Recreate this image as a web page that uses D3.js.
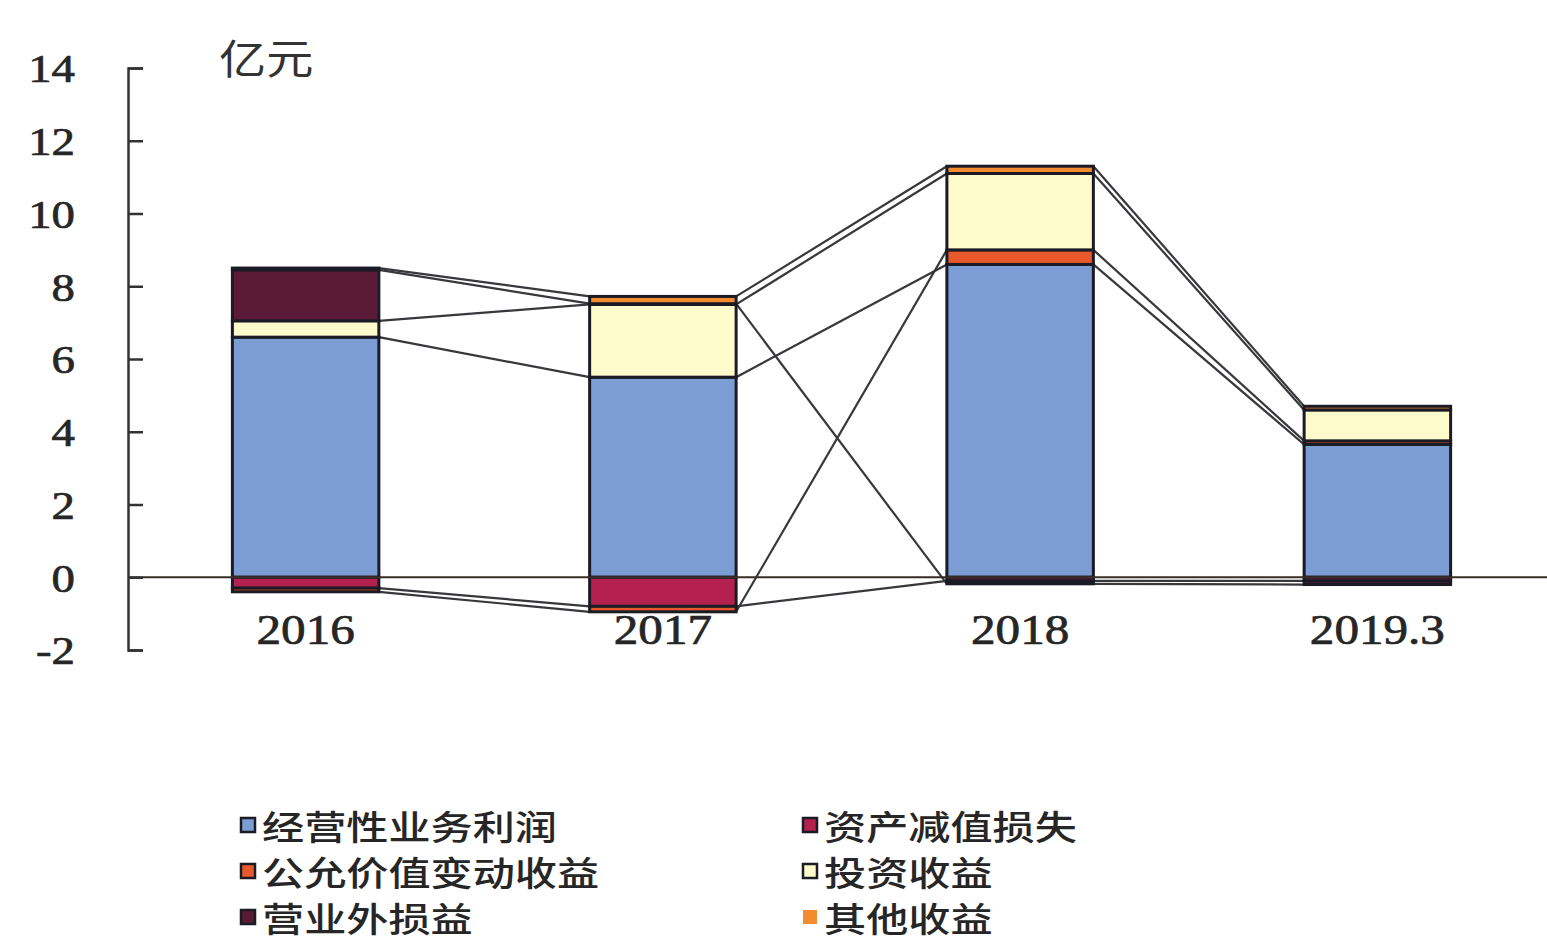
<!DOCTYPE html>
<html>
<head>
<meta charset="utf-8">
<script src="https://cdn.jsdelivr.net/npm/d3@7"></script>
<style>
  html, body { margin: 0; padding: 0; background: #ffffff; }
  svg { display: block; }
</style>
</head>
<body>
<svg id="chart" width="1547" height="943"></svg>
<script>
// Profit composition by year, 亿元
const categories = ["2016", "2017", "2018", "2019.3"];
const seriesNames = ["经营性业务利润", "资产减值损失", "公允价值变动收益", "投资收益", "营业外损益", "其他收益"];
const operatingProfit = [6.6, 5.5, 8.6, 3.65];
const impairmentLoss = [-0.3, -0.8, -0.1, -0.1];
const fairValueGain = [-0.1, -0.15, 0.4, 0.1];
const investmentIncome = [0.45, 2.0, 2.1, 0.85];
const nonOperating = [1.4, 0.02, -0.08, -0.1];
const otherIncome = [0.05, 0.2, 0.2, 0.1];
const yTicks = [-2, 0, 2, 4, 6, 8, 10, 12, 14];
const unitLabel = "亿元";

const seriesValues = [operatingProfit, impairmentLoss, fairValueGain, investmentIncome, nonOperating, otherIncome];
const colors = ["#7b9dd4", "#b4214e", "#e9582b", "#fdfbcb", "#5b1a36", "#f28c2e"];

const svg = d3.select("#chart");
const serif = "'Liberation Serif', 'Times New Roman', serif";
const cjk = "'Noto Sans CJK SC', 'Noto Sans', sans-serif";
const stretch = 1.17;

const x = d3.scaleBand().domain(categories).range([127, 1556]).paddingInner(0.59).paddingOuter(0.295);
const y = d3.scaleLinear().domain([-2, 14]).range([650, 68]);

// rows for the stack: one object per category
const rows = categories.map((c, i) => {
  const r = { cat: c };
  seriesNames.forEach((s, k) => { r[s] = seriesValues[k][i]; });
  return r;
});
const stacked = d3.stack().keys(seriesNames).offset(d3.stackOffsetDiverging)(rows);

// end value of each segment (top for gains, bottom for losses)
const endOf = (d, k, i) => seriesValues[k][i] >= 0 ? d[1] : d[0];

// series lines between neighbouring columns
const lineG = svg.append("g");
stacked.forEach((layer, k) => {
  for (let i = 0; i < categories.length - 1; i++) {
    lineG.append("line")
      .attr("x1", x(categories[i]) + x.bandwidth())
      .attr("y1", y(endOf(layer[i], k, i)))
      .attr("x2", x(categories[i + 1]))
      .attr("y2", y(endOf(layer[i + 1], k, i + 1)))
      .attr("stroke", "#38383c")
      .attr("stroke-width", 2.2);
  }
});

// stacked columns
const barG = svg.append("g");
stacked.forEach((layer, k) => {
  barG.selectAll(null)
    .data(layer)
    .join("rect")
    .attr("x", (d, i) => x(categories[i]))
    .attr("width", x.bandwidth())
    .attr("y", d => y(d[1]))
    .attr("height", d => Math.max(0, y(d[0]) - y(d[1])))
    .attr("fill", colors[k])
    .attr("stroke", "#1b1b26")
    .attr("stroke-width", 3);
});

// zero line across the plot
svg.append("line")
  .attr("x1", 128).attr("x2", 1547)
  .attr("y1", y(0)).attr("y2", y(0))
  .attr("stroke", "#3a2c26")
  .attr("stroke-width", 2);

// value axis with inward ticks
const yAxis = d3.axisLeft(y).tickValues(yTicks).tickFormat(d => String(d))
  .tickSizeInner(-15).tickSizeOuter(-15).tickPadding(53);
const yg = svg.append("g").attr("transform", "translate(128,0)").call(yAxis);
yg.select(".domain").attr("stroke", "#333").attr("stroke-width", 2.5);
yg.selectAll(".tick line").attr("stroke", "#333").attr("stroke-width", 2.5);
yg.selectAll(".tick text")
  .attr("x", null)
  .attr("dy", null)
  .attr("dominant-baseline", "central")
  .attr("transform", "translate(-53,0) scale(" + stretch + ",1)")
  .attr("font-family", serif)
  .attr("font-size", 40)
  .attr("fill", "#262626")
  .attr("stroke", "#262626")
  .attr("stroke-width", 0.7);
yg.attr("font-family", null).attr("font-size", null);

// category labels
svg.append("g").selectAll("text")
  .data(categories)
  .join("text")
  .attr("transform", d => "translate(" + (x(d) + x.bandwidth() / 2) + ",644) scale(" + stretch + ",1)")
  .attr("text-anchor", "middle")
  .attr("font-family", serif)
  .attr("font-size", 42)
  .attr("fill", "#262626")
  .attr("stroke", "#262626")
  .attr("stroke-width", 0.7)
  .text(d => d);

// unit label
svg.append("text")
  .attr("transform", "translate(219,74) scale(1.15,1)")
  .attr("font-family", cjk)
  .attr("font-size", 41)
  .attr("fill", "#333")
  .text(unitLabel);

// legend in two columns
const legendPos = [
  [241, 825], [803, 825],
  [241, 871], [803, 871],
  [241, 917], [803, 917]
];
const lg = svg.append("g");
seriesNames.forEach((name, k) => {
  const [lx, ly] = legendPos[k];
  lg.append("rect")
    .attr("x", lx).attr("y", ly - 7)
    .attr("width", 14).attr("height", 14)
    .attr("fill", colors[k])
    .attr("stroke", k === 5 ? "none" : "#1b1b26")
    .attr("stroke-width", 2.5);
  lg.append("text")
    .attr("transform", "translate(" + (lx + 21) + "," + ly + ") scale(1.24,1)")
    .attr("dominant-baseline", "central")
    .attr("font-family", cjk)
    .attr("font-size", 34)
    .attr("font-weight", 500)
    .attr("fill", "#262626")
    .text(name);
});
</script>
</body>
</html>
